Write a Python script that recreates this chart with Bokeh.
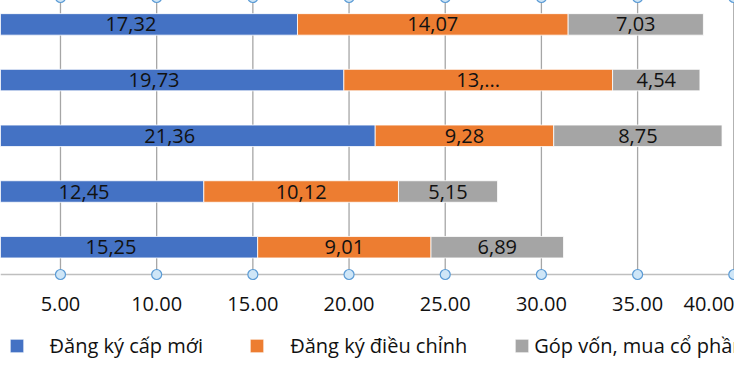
from bokeh.plotting import figure
from bokeh.models import (ColumnDataSource, FixedTicker, NumeralTickFormatter, Range1d,
                          Legend, LegendItem, LinearAxis)
from bokeh.core.properties import value
from bokeh.embed import file_html
from bokeh.resources import INLINE

# ---- data (rows top to bottom) ----
rows = [5, 4, 3, 2, 1]
new_reg = [17.32, 19.73, 21.36, 12.45, 15.25]
adjust = [14.07, 13.97, 9.28, 10.12, 9.01]
capital = [7.03, 4.54, 8.75, 5.15, 6.89]
new_lbl = ["17,32", "19,73", "21,36", "12,45", "15,25"]
adjust_lbl = ["14,07", "13,...", "9,28", "10,12", "9,01"]
capital_lbl = ["7,03", "4,54", "8,75", "5,15", "6,89"]
x_ticks = [5, 10, 15, 20, 25, 30, 35, 40]
series_names = ["Đăng ký cấp mới", "Đăng ký điều chỉnh", "Góp vốn, mua cổ phần"]
colors = ["#4472C4", "#ED7D31", "#A5A5A5"]

FONT = "Open Sans"
AXIS_Y = 0.51
Y_TOP = 5.429
TOP_MARK_Y = 5.483

p = figure(width=734, height=359, output_backend="svg", toolbar_location=None,
           x_range=Range1d(1.882, 40.037), y_range=Range1d(-1.016, Y_TOP),
           min_border=0, min_border_left=0, min_border_right=0,
           min_border_top=0, min_border_bottom=0, x_axis_location=None,
           y_axis_location=None, outline_line_color=None)
p.xgrid.visible = False
p.ygrid.visible = False

# grid lines (from tick values, from axis up to the top)
p.segment(x0=x_ticks, x1=x_ticks, y0=[AXIS_Y] * len(x_ticks), y1=[Y_TOP + 1] * len(x_ticks),
          line_color="#A6A6A6", line_width=1.3)

left1 = [0] * 5
right1 = new_reg
left2 = right1
right2 = [a + b for a, b in zip(new_reg, adjust)]
left3 = right2
right3 = [a + b for a, b in zip(right2, capital)]

src = ColumnDataSource(dict(y=rows, l1=left1, r1=right1, l2=left2, r2=right2, l3=left3, r3=right3,
                            m1=[(a + b) / 2 for a, b in zip(left1, right1)],
                            m2=[(a + b) / 2 for a, b in zip(left2, right2)],
                            m3=[(a + b) / 2 for a, b in zip(left3, right3)],
                            t1=new_lbl, t2=adjust_lbl, t3=capital_lbl))

H = 0.386
b1 = p.hbar(y="y", left="l1", right="r1", height=H, source=src, fill_color=colors[0],
            line_color="white", line_width=0.8)
b2 = p.hbar(y="y", left="l2", right="r2", height=H, source=src, fill_color=colors[1],
            line_color="white", line_width=0.8)
b3 = p.hbar(y="y", left="l3", right="r3", height=H, source=src, fill_color=colors[2],
            line_color="white", line_width=0.8)

for m, t in (("m1", "t1"), ("m2", "t2"), ("m3", "t3")):
    p.text(x=m, y="y", text=t, source=src, text_align="center", text_baseline="middle",
           text_font=value(FONT), text_font_size="20px", text_color="#111111")

# x axis at fixed location
xaxis = LinearAxis(fixed_location=AXIS_Y, ticker=FixedTicker(ticks=x_ticks),
                   formatter=NumeralTickFormatter(format="0.00"),
                   major_tick_in=0, major_tick_out=0, minor_tick_in=0, minor_tick_out=0,
                   axis_line_color="#BFBFBF", axis_line_width=1.3,
                   major_label_standoff=23, major_label_text_font=FONT,
                   major_label_text_font_size="20px", major_label_text_color="#111111")
p.add_layout(xaxis, "below")

for yy in (AXIS_Y, TOP_MARK_Y):
    circ = p.scatter(x=x_ticks, y=[yy] * len(x_ticks), size=10, marker="circle",
                     fill_color="#CFE6F7", line_color="#5B9BD5", line_width=1.2)
    circ.level = "overlay"

# legends (one per series to control positions)
locs = [(7.5, 0), (248.2, 0), (513.2, 0)]
standoffs = [25, 25, 4]
for r, name, loc, so in zip([b1, b2, b3], series_names, locs, standoffs):
    lg = Legend(items=[LegendItem(label=name, renderers=[r])], location=loc,
                orientation="horizontal", glyph_width=17, glyph_height=17,
                label_standoff=so, label_text_font=FONT, label_text_font_size="20px",
                label_text_color="#111111", padding=0, margin=0, spacing=0,
                border_line_color=None, background_fill_alpha=0, label_height=17)
    p.add_layout(lg, "center")

open("out.html", "w").write(file_html(p, INLINE))
